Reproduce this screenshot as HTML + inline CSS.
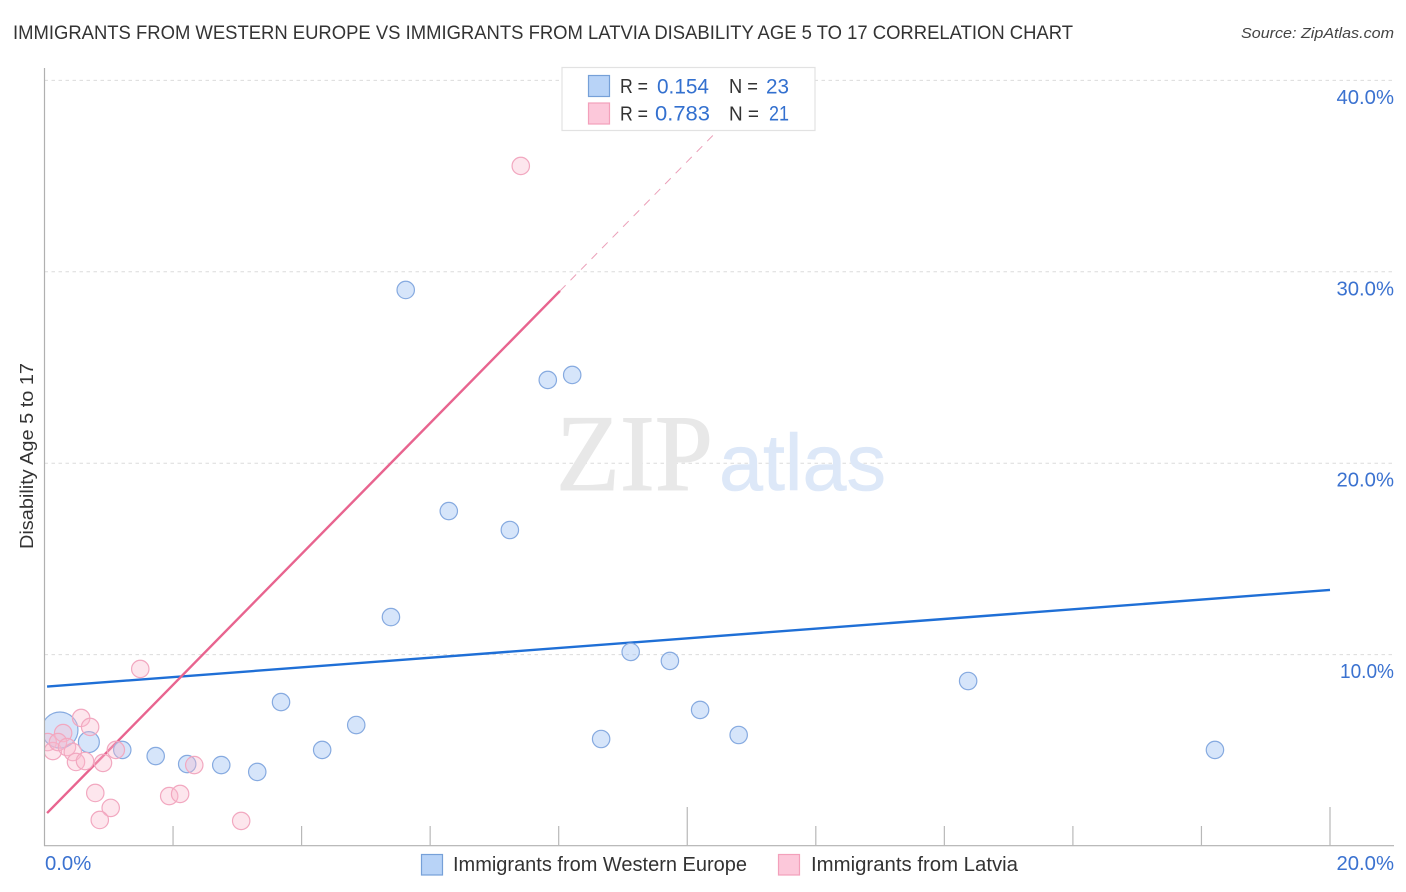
<!DOCTYPE html>
<html lang="en">
<head>
<meta charset="utf-8">
<title>Immigrants from Western Europe vs Immigrants from Latvia Disability Age 5 to 17 Correlation Chart</title>
<style>
html,body{margin:0;padding:0;background:#fff;width:1406px;height:892px;overflow:hidden}
svg{display:block;font-family:"Liberation Sans",sans-serif}
</style>
</head>
<body>
<svg id="chart" width="1406" height="892" viewBox="0 0 1406 892" xmlns="http://www.w3.org/2000/svg">
  <defs>
    <clipPath id="plot-clip"><rect x="44.5" y="60" width="1350" height="786"/></clipPath>
  </defs>
  <rect x="0" y="0" width="1406" height="892" fill="#ffffff"/>
  <text x="13" y="39" font-size="19" fill="#333333" textLength="1060" lengthAdjust="spacingAndGlyphs">IMMIGRANTS FROM WESTERN EUROPE VS IMMIGRANTS FROM LATVIA DISABILITY AGE 5 TO 17 CORRELATION CHART</text>
  <text x="1241" y="38" font-size="15" font-style="italic" fill="#444444" textLength="153" lengthAdjust="spacingAndGlyphs">Source: ZipAtlas.com</text>

  <g id="grid"></g>

  <g>
    <text x="556" y="490" font-family="'Liberation Serif',serif" font-size="109" fill="#e8e8e8" stroke="#e8e8e8" stroke-width="1" textLength="157" lengthAdjust="spacingAndGlyphs">ZIP</text>
    <text x="719" y="490" font-size="80" fill="#dde8f8" stroke="#dde8f8" stroke-width="0.6" textLength="167" lengthAdjust="spacingAndGlyphs">atlas</text>
  </g>

  <g id="lines"></g>
  <g id="points" clip-path="url(#plot-clip)"></g>
  <g id="axes"></g>
  <g id="tick-labels"></g>

  <text transform="translate(33,549) rotate(-90)" x="0" y="0" font-size="18" fill="#333333" textLength="186" lengthAdjust="spacingAndGlyphs">Disability Age 5 to 17</text>

  <g>
    <rect x="562" y="67.5" width="253" height="63" fill="#ffffff" stroke="#e2e2e2" stroke-width="1.2"/>
    <rect x="588.5" y="75.5" width="21" height="21" fill="#b8d3f7" stroke="#76a0d8" stroke-width="1.2"/>
    <rect x="588.5" y="103" width="21" height="21" fill="#fcc8da" stroke="#f3a0bb" stroke-width="1.2"/>
    <text x="620" y="93" font-size="20" fill="#333333" textLength="28" lengthAdjust="spacingAndGlyphs">R =</text>
    <text x="657" y="93.3" font-size="21.5" fill="#3370cf" textLength="52" lengthAdjust="spacingAndGlyphs">0.154</text>
    <text x="729" y="93" font-size="20" fill="#333333" textLength="29" lengthAdjust="spacingAndGlyphs">N =</text>
    <text x="766" y="93.3" font-size="21.5" fill="#3370cf" textLength="23" lengthAdjust="spacingAndGlyphs">23</text>
    <text x="620" y="120.3" font-size="20" fill="#333333" textLength="28" lengthAdjust="spacingAndGlyphs">R =</text>
    <text x="655" y="120.5" font-size="21.5" fill="#3370cf" textLength="55" lengthAdjust="spacingAndGlyphs">0.783</text>
    <text x="729" y="120.3" font-size="20" fill="#333333" textLength="30" lengthAdjust="spacingAndGlyphs">N =</text>
    <text x="769" y="120.5" font-size="21.5" fill="#3370cf" textLength="20" lengthAdjust="spacingAndGlyphs">21</text>
  </g>

  <g>
    <rect x="421.5" y="854.5" width="21" height="20.5" fill="#b8d3f7" stroke="#76a0d8" stroke-width="1.2"/>
    <text x="453" y="871" font-size="20" fill="#333333" textLength="294" lengthAdjust="spacingAndGlyphs">Immigrants from Western Europe</text>
    <rect x="778.5" y="854.5" width="21" height="20.5" fill="#fcc8da" stroke="#f3a0bb" stroke-width="1.2"/>
    <text x="811" y="871" font-size="20" fill="#333333" textLength="207" lengthAdjust="spacingAndGlyphs">Immigrants from Latvia</text>
  </g>
</svg>
<script>
const yTickValues = [10, 20, 30, 40];
const yTickLabels = ["10.0%", "20.0%", "30.0%", "40.0%"];
const xTickValues = [0, 2, 4, 6, 8, 10, 12, 14, 16, 18, 20];
const xEdgeLabels = ["0.0%", "20.0%"];

const westernEuropeX = [0.24, 0.69, 1.21, 1.73, 2.22, 2.75, 3.31, 3.68, 4.32, 4.85, 5.39, 5.62, 6.29, 7.24, 7.83, 8.21, 8.66, 9.12, 9.73, 10.20, 10.80, 14.37, 18.21];
const westernEuropeY = [6.06, 5.43, 5.02, 4.70, 4.28, 4.23, 3.87, 7.52, 5.02, 6.32, 11.96, 29.05, 17.50, 16.51, 24.35, 24.61, 5.59, 10.14, 9.67, 7.11, 5.80, 8.62, 5.02];
const westernEuropeWeight = [4.3, 1.45, 1, 1, 1, 1, 1, 1, 1, 1, 1, 1, 1, 1, 1, 1, 1, 1, 1, 1, 1, 1, 1];

const latviaX = [0.57, 0.71, 0.29, 0.05, 0.13, 0.21, 0.35, 0.44, 0.49, 0.63, 0.91, 1.11, 0.79, 1.03, 0.86, 1.49, 2.33, 1.94, 2.11, 3.06, 7.41];
const latviaY = [6.69, 6.22, 5.90, 5.43, 4.96, 5.43, 5.17, 4.91, 4.39, 4.44, 4.34, 5.02, 2.77, 1.99, 1.36, 9.25, 4.23, 2.61, 2.72, 1.31, 35.53];

const westernEuropeTrendX = [0.04, 20];
const westernEuropeTrendY = [8.33, 13.38];
const latviaTrendX = [0.04, 8.02];
const latviaTrendY = [1.72, 29.0];
const latviaTrendExtensionX = [8.02, 11.24];
const latviaTrendExtensionY = [29.0, 40];

const NS = "http://www.w3.org/2000/svg";
function xScale(v) { return 44.5 + v * 64.275; }
function yScale(v) { return 846 - v * 19.14; }
function make(tag, attrs, parent) {
  const el = document.createElementNS(NS, tag);
  for (const k in attrs) el.setAttribute(k, attrs[k]);
  parent.appendChild(el);
  return el;
}

const gridGroup = document.getElementById("grid");
yTickValues.forEach(function (v) {
  const el = make("line", {x1: 44.5, x2: 1394, y1: yScale(v), y2: yScale(v), stroke: "#dcdcdc", "stroke-width": 1, "stroke-dasharray": "3.5 3.5"}, gridGroup);
  
  
});

const lineGroup = document.getElementById("lines");
const blueLine = make("line", {x1: xScale(westernEuropeTrendX[0]), y1: yScale(westernEuropeTrendY[0]), x2: xScale(westernEuropeTrendX[1]), y2: yScale(westernEuropeTrendY[1]), stroke: "#1f6fd6", "stroke-width": 2.4}, lineGroup);


const pinkLine = make("line", {x1: xScale(latviaTrendX[0]), y1: yScale(latviaTrendY[0]), x2: xScale(latviaTrendX[1]), y2: yScale(latviaTrendY[1]), stroke: "#e8648f", "stroke-width": 2.4}, lineGroup);


const pinkDash = make("line", {x1: xScale(latviaTrendExtensionX[0]), y1: yScale(latviaTrendExtensionY[0]), x2: xScale(latviaTrendExtensionX[1]), y2: yScale(latviaTrendExtensionY[1]), stroke: "#eb9fb8", "stroke-width": 1, "stroke-dasharray": "8 7"}, lineGroup);



const pointGroup = document.getElementById("points");
westernEuropeX.forEach(function (x, i) {
  const el = make("circle", {cx: xScale(x), cy: yScale(westernEuropeY[i]), r: 8.7 * Math.sqrt(westernEuropeWeight[i]), fill: "rgba(165,198,243,0.45)", stroke: "#86aae0", "stroke-width": 1.2}, pointGroup);
  
  
});
latviaX.forEach(function (x, i) {
  const el = make("circle", {cx: xScale(x), cy: yScale(latviaY[i]), r: 8.7, fill: "rgba(250,185,205,0.36)", stroke: "#f2a8c0", "stroke-width": 1.2}, pointGroup);
  
  
});

const axisGroup = document.getElementById("axes");
const yAxis = make("line", {x1: 44.5, x2: 44.5, y1: 68, y2: 846, stroke: "#b0b0b0", "stroke-width": 1.2}, axisGroup);


const xAxis = make("line", {x1: 44, x2: 1394, y1: 845.7, y2: 845.7, stroke: "#b0b0b0", "stroke-width": 1.2}, axisGroup);


xTickValues.forEach(function (v) {
  if (v === 0) return;
  const major = v % 10 === 0;
  const el = make("line", {x1: xScale(v), x2: xScale(v), y1: major ? 807 : 826, y2: 846, stroke: "#b8b8b8", "stroke-width": 1.2}, axisGroup);
  
  
});

const labelGroup = document.getElementById("tick-labels");
yTickValues.forEach(function (v, i) {
  const el = make("text", {x: 1394, y: yScale(v) + 23.5, "font-size": 20.3, fill: "#3b72d0", "text-anchor": "end", textLength: v === 10 ? 54 : 57.5, lengthAdjust: "spacingAndGlyphs"}, labelGroup);
  el.textContent = yTickLabels[i];
  
  
});
const xLabelLeft = make("text", {x: xScale(0) + 0.5, y: 870, "font-size": 20.3, fill: "#3b72d0"}, labelGroup);
xLabelLeft.textContent = xEdgeLabels[0];


const xLabelRight = make("text", {x: 1394, y: 870, "font-size": 20.3, fill: "#3b72d0", "text-anchor": "end"}, labelGroup);
xLabelRight.textContent = xEdgeLabels[1];


</script>
</body>
</html>
